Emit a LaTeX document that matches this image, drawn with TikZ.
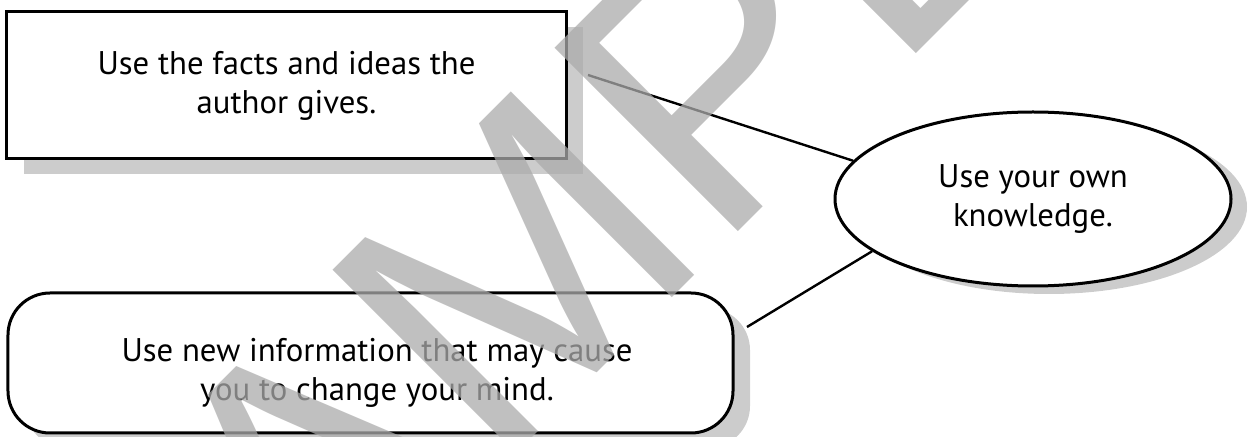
\documentclass[tikz,border=0pt]{standalone}
\usepackage{fontspec}
\setmainfont{PT Sans}
\newfontfamily\wmfont{Liberation Sans}
\usetikzlibrary{shapes.geometric,shadows}
\definecolor{wmgray}{gray}{0.669}
\definecolor{shadowgray}{gray}{0.8}
\newlength\reflen
\begin{document}
\settowidth\reflen{\fontsize{10pt}{12pt}\selectfont Use the facts and ideas the}%
\pgfmathsetmacro\fsz{10*379.39/\reflen}%
\begin{tikzpicture}[x=1bp,y=1bp,
  txt/.style={align=center, font=\fontsize{\fsz pt}{39bp}\selectfont},
  shapebase/.style={draw, line width=3bp, fill=white, inner sep=0pt},
  myshadow/.style 2 args={drop shadow={shadow xshift=#1, shadow yshift=#2, fill=shadowgray, opacity=1}},
  conn/.style={draw, line width=2.4bp},
  wm/.style={text=wmgray, text opacity=0.747, inner sep=0pt,
    font=\wmfont\fontsize{377bp}{377bp}\selectfont}]
\useasboundingbox (0,0) rectangle (1251,-437);
% boxes
\node[shapebase, txt, minimum width=559bp, minimum height=147bp,
  myshadow={17bp}{-15bp}] (a) at (286.5,-85.5)
  {Use the facts and ideas the\\author gives.};
\node[shapebase, txt, ellipse, minimum width=396bp, minimum height=174bp,
  myshadow={16bp}{-8bp}] (b) at (1033,-199)
  {Use your own\\knowledge.};
\node[shapebase, rounded corners=42bp, minimum width=725bp, minimum height=140bp,
  myshadow={17bp}{-15bp}] (c) at (370.5,-363) {};
\node[txt] (ct) at (377,-373) {Use new information that may cause\\you to change your mind.};
% connectors
\coordinate (a1) at (588,-75);
\coordinate (c1) at (747,-327);
\draw[conn] (a1) -- (b.168);
\draw[conn] (c1) -- (b.198);
% watermark
\begin{scope}
\clip (0,0) rectangle (1251,-437);
\node[wm, rotate=45, anchor=base west] (wmk) at (139,-831) {SAMPLE};
\end{scope}
\end{tikzpicture}
\end{document}
